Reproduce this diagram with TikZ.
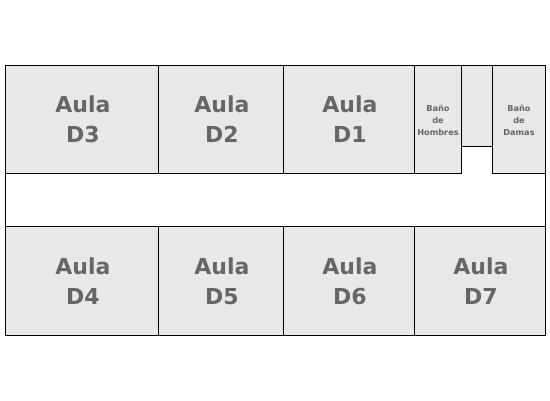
\documentclass[tikz,border=0pt]{standalone}
\usepackage{fontspec}
\setmainfont{DejaVu Sans}
\definecolor{roomfill}{HTML}{E8E8E8}
\definecolor{roomtext}{HTML}{666666}
\tikzset{
  plan/.style={x=1pt,y=-1pt},
  room/.style={fill=roomfill,draw=black,line width=1pt},
  biglabel/.style={text=roomtext,align=center,inner sep=0pt,font=\fontsize{22}{30}\selectfont\bfseries},
  smalllabel/.style={text=roomtext,align=center,inner sep=0pt,font=\fontsize{8.2}{12}\selectfont\bfseries}
}
\begin{document}
\begin{tikzpicture}[plan]
\useasboundingbox (0,0) rectangle (550,400);
\fill[white] (0,0) rectangle (550,400);
% outer outline with corridor
\draw[line width=1pt,fill=white] (5.5,65.5) rectangle (545.5,335.5);
% top row
\draw[room] (5.5,65.5) rectangle (158.5,173.5);
\draw[room] (158.5,65.5) rectangle (283.5,173.5);
\draw[room] (283.5,65.5) rectangle (414.5,173.5);
\draw[room] (414.5,65.5) rectangle (461.5,173.5);
\draw[room] (461.5,65.5) rectangle (492.5,146.5);
\draw[room] (492.5,65.5) rectangle (545.5,173.5);
% bottom row
\draw[room] (5.5,226.5) rectangle (158.5,335.5);
\draw[room] (158.5,226.5) rectangle (283.5,335.5);
\draw[room] (283.5,226.5) rectangle (414.5,335.5);
\draw[room] (414.5,226.5) rectangle (545.5,335.5);
% labels
\node[biglabel] (d3) at (83,119) {Aula\\D3};
\node[biglabel] (d2) at (222,119) {Aula\\D2};
\node[biglabel] (d1) at (350,119) {Aula\\D1};
\node[biglabel] (d4) at (83,281) {Aula\\D4};
\node[biglabel] (d5) at (222,281) {Aula\\D5};
\node[biglabel] (d6) at (350,281) {Aula\\D6};
\node[biglabel] (d7) at (481,281) {Aula\\D7};
\node[smalllabel] (bh) at (438,120) {Baño\\de\\Hombres};
\node[smalllabel] (bd) at (519,120) {Baño\\de\\Damas};
\end{tikzpicture}
\end{document}
